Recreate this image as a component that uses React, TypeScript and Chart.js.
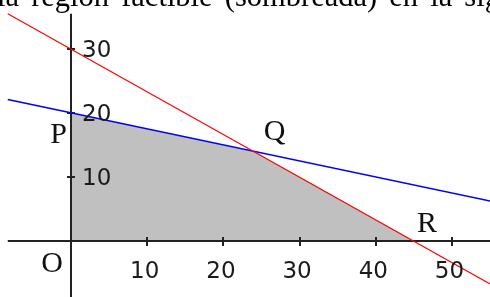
import React, { useEffect, useRef } from "react";
import { Chart, registerables } from "chart.js";

Chart.register(...registerables);

const headingText = "la región factible (sombreada) en la siguiente figura";

const xTicks = [10, 20, 30, 40, 50];
const yTicks = [10, 20, 30];

const feasibleX = [0, 24, 45];
const feasibleY = [20, 14, 0];

const redX = [-8.3, 55];
const redY = [35.5, -6.7];

const blueX = [-8.3, 55];
const blueY = [22.1, 6.25];

const pointNames = ["O", "P", "Q", "R"];
const pointX = [0, 0, 24, 45];
const pointY = [0, 20, 14, 0];

const axisXRange = [-8.3, 55];
const axisYRange = [-8.75, 35.5];

const toPts = (xs: number[], ys: number[]) => xs.map((x, i) => ({ x, y: ys[i] }));

const labelOffsets: Record<string, [number, number]> = {
  O: [-19, 31],
  P: [-12.5, 30],
  Q: [20.6, -11.4],
  R: [13, -9],
};

const axesPlugin = {
  id: "axesPlugin",
  afterDatasetDraw(chart: any, args: any) {
    if (args.index !== 0) return;
    const ctx = chart.ctx;
    const xs = chart.scales.x;
    const ys = chart.scales.y;
    const ox = Math.round(xs.getPixelForValue(0));
    const oy = Math.round(ys.getPixelForValue(0));
    ctx.save();
    ctx.strokeStyle = "#222";
    ctx.lineWidth = 2;
    ctx.beginPath();
    ctx.moveTo(xs.getPixelForValue(axisXRange[0]), oy);
    ctx.lineTo(xs.getPixelForValue(axisXRange[1]), oy);
    ctx.moveTo(ox, ys.getPixelForValue(axisYRange[1]));
    ctx.lineTo(ox, ys.getPixelForValue(axisYRange[0]));
    xTicks.forEach((t) => {
      const p = Math.round(xs.getPixelForValue(t));
      ctx.moveTo(p, oy - 4);
      ctx.lineTo(p, oy + 5);
    });
    yTicks.forEach((t) => {
      const p = Math.round(ys.getPixelForValue(t));
      ctx.moveTo(ox - 4, p);
      ctx.lineTo(ox + 4, p);
    });
    ctx.stroke();
    ctx.restore();
  },
  afterDraw(chart: any) {
    const ctx = chart.ctx;
    const xs = chart.scales.x;
    const ys = chart.scales.y;
    const ox = xs.getPixelForValue(0);
    const oy = ys.getPixelForValue(0);
    ctx.save();
    ctx.fillStyle = "#1a1a1a";
    ctx.font = '23px "DejaVu Sans"';
    ctx.textBaseline = "alphabetic";
    ctx.textAlign = "center";
    xTicks.forEach((t) => {
      ctx.fillText(String(t), xs.getPixelForValue(t) - 2.5, oy + 37);
    });
    ctx.textAlign = "left";
    yTicks.forEach((t) => {
      ctx.fillText(String(t), ox + 11, ys.getPixelForValue(t) + 8);
    });
    ctx.fillStyle = "#111";
    ctx.font = '30px "Liberation Serif"';
    ctx.textAlign = "center";
    pointNames.forEach((n, i) => {
      const [dx, dy] = labelOffsets[n];
      ctx.fillText(n, xs.getPixelForValue(pointX[i]) + dx, ys.getPixelForValue(pointY[i]) + dy);
    });
    ctx.restore();
  },
};

export default function App() {
  const ref = useRef<HTMLCanvasElement>(null);
  useEffect(() => {
    if (!ref.current) return;
    const chart = new Chart(ref.current, {
      type: "scatter",
      data: {
        datasets: [
          {
            label: "Región factible",
            data: toPts(feasibleX, feasibleY),
            showLine: true,
            fill: "origin",
            backgroundColor: "#c0c0c0",
            borderWidth: 0,
            borderColor: "rgba(0,0,0,0)",
            pointRadius: 0,
            order: 3,
          },
          {
            label: "2x + 3y = 90",
            data: toPts(redX, redY),
            showLine: true,
            borderColor: "#ff0000",
            borderWidth: 1.2,
            pointRadius: 0,
            fill: false,
            order: 1,
          },
          {
            label: "x + 4y = 80",
            data: toPts(blueX, blueY),
            showLine: true,
            borderColor: "#0000ff",
            borderWidth: 1.6,
            pointRadius: 0,
            fill: false,
            order: 2,
          },
        ],
      },
      options: {
        animation: false,
        responsive: false,
        maintainAspectRatio: false,
        layout: { padding: 0 },
        plugins: { legend: { display: false }, tooltip: { enabled: false }, title: { display: false } },
        scales: {
          x: { type: "linear", display: false, min: -71 / 7.62, max: 419 / 7.62 },
          y: { type: "linear", display: false, min: -56 / 6.4, max: 241 / 6.4 },
        },
      },
      plugins: [axesPlugin],
    });
    return () => chart.destroy();
  }, []);

  return (
    <div style={{ position: "absolute", left: 0, top: 0, width: 490, height: 297, overflow: "hidden", background: "#fff" }}>
      <canvas ref={ref} width={490} height={297} style={{ position: "absolute", left: 0, top: 0, width: 490, height: 297 }} />
      <div
        style={{
          position: "absolute",
          left: -3,
          top: -19,
          whiteSpace: "nowrap",
          fontFamily: '"Liberation Serif", serif',
          fontSize: 30.5,
          lineHeight: "30px",
          wordSpacing: 4.5,
          color: "#000",
        }}
      >
        {headingText}
      </div>
    </div>
  );
}
